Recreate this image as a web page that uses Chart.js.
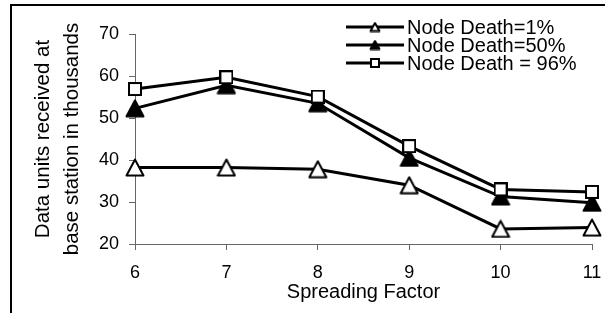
<!DOCTYPE html>
<html>
<head>
<meta charset="utf-8">
<script src="https://cdn.jsdelivr.net/npm/chart.js@4.4.1/dist/chart.umd.min.js"></script>
<style>
  html, body { margin: 0; padding: 0; background: #fff; }
  #wrap { position: relative; width: 605px; height: 313px; overflow: hidden; }
  #frame { position: absolute; left: 10px; top: 4px; width: 620px; height: 330px; border-left: 2px solid #000; border-top: 2px solid #000; }
  #chart { position: absolute; left: 0; top: 0; }
</style>
</head>
<body>
<div id="wrap">
  <div id="frame"></div>
  <canvas id="chart" width="605" height="313"></canvas>
</div>
<script>
// Data
const spreadingFactors = ['6', '7', '8', '9', '10', '11'];
const death1 = [38.2, 38.2, 37.8, 34.0, 23.6, 23.9];
const death50 = [52.3, 57.8, 53.5, 40.5, 31.3, 29.8];
const death96 = [56.9, 59.7, 55.1, 43.3, 33.0, 32.4];
const seriesLabels = ['Node Death=1%', 'Node Death=50%', 'Node Death = 96%'];
const yTicks = [20, 30, 40, 50, 60, 70];

const FONT = '"Liberation Sans", Arial, sans-serif';

// marker images, centred on their bounding box like the original
function triangleMarker(w, h, fill) {
  const c = document.createElement('canvas');
  c.width = w; c.height = h;
  const ctx = c.getContext('2d');
  ctx.beginPath();
  ctx.moveTo(w / 2, 1.5);
  ctx.lineTo(w - 1.5, h - 1.5);
  ctx.lineTo(1.5, h - 1.5);
  ctx.closePath();
  ctx.fillStyle = fill;
  ctx.fill();
  ctx.lineWidth = 2;
  ctx.lineJoin = 'round';
  ctx.strokeStyle = '#000';
  ctx.stroke();
  return c;
}

function squareMarker(s) {
  const c = document.createElement('canvas');
  c.width = s; c.height = s;
  const ctx = c.getContext('2d');
  ctx.fillStyle = '#fff';
  ctx.fillRect(1, 1, s - 2, s - 2);
  ctx.lineWidth = 2;
  ctx.strokeStyle = '#000';
  ctx.strokeRect(1, 1, s - 2, s - 2);
  return c;
}

const markers = [triangleMarker(20, 19, '#fff'), triangleMarker(20, 19, '#000'), squareMarker(14)];
const legendMarkers = [triangleMarker(12, 11, '#fff'), triangleMarker(12, 11, '#000'), squareMarker(10)];

// legend drawn as line + marker, like the original
const lineLegend = {
  id: 'lineLegend',
  afterDraw(chart) {
    const ctx = chart.ctx;
    const rows = [27, 45, 63];
    ctx.save();
    ctx.font = '20px ' + FONT;
    ctx.textBaseline = 'middle';
    ctx.fillStyle = '#000';
    seriesLabels.forEach((label, i) => {
      const y = rows[i];
      ctx.beginPath();
      ctx.moveTo(346, y);
      ctx.lineTo(404, y);
      ctx.lineWidth = 3;
      ctx.strokeStyle = '#000';
      ctx.stroke();
      const m = legendMarkers[i];
      ctx.drawImage(m, 375 - m.width / 2, y - m.height / 2);
      ctx.fillText(label, 407, y + 1);
    });
    ctx.restore();
  }
};

function makeDataset(label, data, marker, order) {
  return {
    label: label,
    data: data,
    borderColor: '#000',
    borderWidth: 3,
    backgroundColor: '#fff',
    pointStyle: marker,
    pointRadius: 10,
    pointHoverRadius: 10,
    tension: 0,
    clip: false,
    order: order
  };
}

new Chart(document.getElementById('chart'), {
  type: 'line',
  data: {
    labels: spreadingFactors,
    datasets: [
      makeDataset(seriesLabels[0], death1, markers[0], 3),
      makeDataset(seriesLabels[1], death50, markers[1], 2),
      makeDataset(seriesLabels[2], death96, markers[2], 1)
    ]
  },
  options: {
    responsive: false,
    animation: false,
    events: [],
    layout: { padding: { top: 34, right: 9, bottom: 0, left: 0 } },
    plugins: {
      legend: { display: false },
      tooltip: { enabled: false }
    },
    scales: {
      x: {
        type: 'category',
        offset: false,
        grid: { drawOnChartArea: false, drawTicks: true, tickLength: 6, color: '#666' },
        border: { color: '#666', width: 1 },
        ticks: { color: '#000', font: { family: FONT, size: 18 }, padding: 12, maxRotation: 0, autoSkip: false },
        title: {
          display: true,
          text: 'Spreading Factor',
          color: '#000',
          font: { family: FONT, size: 20 },
          padding: { top: 0, bottom: 9 }
        },
        afterFit(scale) {
          scale.height = 69;
          scale.paddingLeft = 0;
          scale.paddingRight = 0;
        }
      },
      y: {
        min: 20,
        max: 70,
        grid: { drawOnChartArea: false, drawTicks: true, tickLength: 6, color: '#666' },
        border: { color: '#666', width: 1 },
        afterBuildTicks(scale) {
          scale.ticks = yTicks.map(v => ({ value: v }));
        },
        ticks: { color: '#000', font: { family: FONT, size: 18 }, padding: 10 },
        title: {
          display: true,
          text: ['Data units received at', 'base station in thousands'],
          color: '#000',
          font: { family: FONT, size: 20.5, lineHeight: 1.4 },
          padding: { top: 29, bottom: 0 }
        },
        afterFit(scale) {
          scale.width = 135;
          scale.paddingTop = 0;
          scale.paddingBottom = 0;
        }
      }
    }
  },
  plugins: [lineLegend]
});
</script>
</body>
</html>
